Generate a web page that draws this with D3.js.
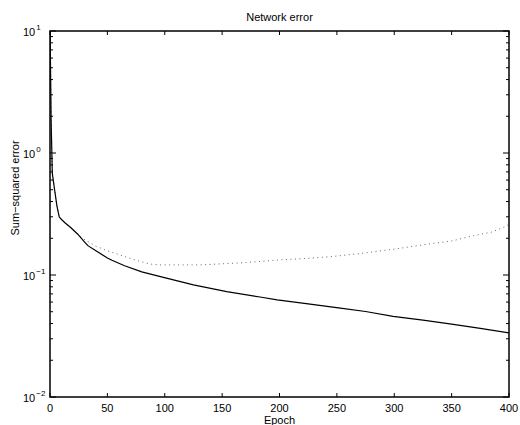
<!DOCTYPE html>
<html>
<head>
<meta charset="utf-8">
<script src="https://cdn.jsdelivr.net/npm/d3@7"></script>
<style>
  body { margin: 0; background: #fff; }
  svg text { font-family: "Liberation Sans", Arial, Helvetica, sans-serif; fill: #000; }
</style>
</head>
<body>
<div id="chart"></div>
<script>
// training error (solid)
const trainEpochs = [0, 1, 2, 4, 6, 8, 10, 13, 18, 24, 30, 33, 40, 50, 54, 65, 80, 98, 125, 154, 183, 198, 225, 253, 275, 299, 325, 350, 375, 400];
const trainError = [12, 1.8, 0.68, 0.5, 0.37, 0.3, 0.285, 0.268, 0.245, 0.217, 0.187, 0.174, 0.158, 0.138, 0.132, 0.119, 0.106, 0.096, 0.083, 0.073, 0.066, 0.0625, 0.058, 0.0536, 0.0502, 0.0458, 0.0427, 0.0396, 0.0365, 0.0335];

// validation error (dotted)
const valEpochs = [0, 1, 2, 4, 6, 8, 10, 13, 18, 24, 29, 40, 50, 61, 75, 87, 96, 131, 168, 200, 225, 247, 273, 302, 331, 350, 369, 385, 395, 400];
const valError = [12, 1.8, 0.68, 0.5, 0.37, 0.3, 0.285, 0.268, 0.245, 0.217, 0.198, 0.172, 0.158, 0.146, 0.132, 0.123, 0.121, 0.121, 0.126, 0.133, 0.137, 0.142, 0.151, 0.164, 0.18, 0.19, 0.21, 0.225, 0.245, 0.26];

const xTicks = [0, 50, 100, 150, 200, 250, 300, 350, 400];
const yMajor = [0.01, 0.1, 1, 10];
const yExponents = ["-2", "-1", "0", "1"];

const margin = { top: 31, right: 11, bottom: 28, left: 50 };
const width = 520 - margin.left - margin.right;
const height = 425 - margin.top - margin.bottom;

const svg = d3
  .select("#chart")
  .append("svg")
  .attr("width", 520)
  .attr("height", 425);

const g = svg
  .append("g")
  .attr("transform", `translate(${margin.left},${margin.top})`);

const x = d3.scaleLinear().domain([0, 400]).range([0, width]);
const y = d3.scaleLog().domain([0.01, 10]).range([height, 0]);

g.append("clipPath")
  .attr("id", "clip")
  .append("rect")
  .attr("width", width)
  .attr("height", height);

// minor ticks for the log axis
const yMinor = [];
[0.01, 0.1, 1].forEach((base) => {
  for (let k = 2; k <= 9; k++) yMinor.push(base * k);
});

// x ticks, top and bottom, pointing inward
xTicks.forEach((t) => {
  g.append("line")
    .attr("x1", x(t)).attr("x2", x(t))
    .attr("y1", height).attr("y2", height - 4)
    .attr("stroke", "#000");
  g.append("line")
    .attr("x1", x(t)).attr("x2", x(t))
    .attr("y1", 0).attr("y2", 4)
    .attr("stroke", "#000");
  g.append("text")
    .attr("x", x(t))
    .attr("y", height + 15)
    .style("text-anchor", "middle")
    .style("font-size", "11px")
    .text(t);
});

// y ticks, left and right
yMajor.forEach((t, i) => {
  g.append("line")
    .attr("x1", 0).attr("x2", 6)
    .attr("y1", y(t)).attr("y2", y(t))
    .attr("stroke", "#000");
  g.append("line")
    .attr("x1", width).attr("x2", width - 6)
    .attr("y1", y(t)).attr("y2", y(t))
    .attr("stroke", "#000");
  const label = g
    .append("text")
    .attr("x", -27)
    .attr("y", y(t) + 5)
    .style("font-size", "11px");
  label.append("tspan").text("10");
  label
    .append("tspan")
    .attr("dy", -6)
    .attr("dx", 1)
    .style("font-size", "8px")
    .text(yExponents[i].replace("-", "\u2212"));
});

yMinor.forEach((t) => {
  g.append("line")
    .attr("x1", 0).attr("x2", 3)
    .attr("y1", y(t)).attr("y2", y(t))
    .attr("stroke", "#000");
  g.append("line")
    .attr("x1", width).attr("x2", width - 3)
    .attr("y1", y(t)).attr("y2", y(t))
    .attr("stroke", "#000");
});

const line = d3
  .line()
  .x((d) => x(d[0]))
  .y((d) => y(d[1]));

const valData = valEpochs.map((e, i) => [e, valError[i]]);
const trainData = trainEpochs.map((e, i) => [e, trainError[i]]);

g.append("path")
  .datum(valData)
  .attr("clip-path", "url(#clip)")
  .attr("fill", "none")
  .attr("stroke", "#666")
  .attr("stroke-width", 1)
  .attr("stroke-dasharray", "1,3.5")
  .attr("d", line);

g.append("path")
  .datum(trainData)
  .attr("clip-path", "url(#clip)")
  .attr("fill", "none")
  .attr("stroke", "#000")
  .attr("stroke-width", 1.2)
  .attr("d", line);

// axes box
g.append("rect")
  .attr("width", width)
  .attr("height", height)
  .attr("fill", "none")
  .attr("stroke", "#000")
  .attr("stroke-width", 1.5);

g.append("text")
  .attr("x", width / 2)
  .attr("y", -10)
  .style("text-anchor", "middle")
  .style("font-size", "11px")
  .text("Network error");

g.append("text")
  .attr("x", width / 2)
  .attr("y", height + 27)
  .style("text-anchor", "middle")
  .style("font-size", "11px")
  .text("Epoch");

g.append("text")
  .attr("transform", "rotate(-90)")
  .attr("x", -(188 - margin.top))
  .attr("y", -31)
  .style("text-anchor", "middle")
  .style("font-size", "11px")
  .text("Sum\u2212squared error");
</script>
</body>
</html>
